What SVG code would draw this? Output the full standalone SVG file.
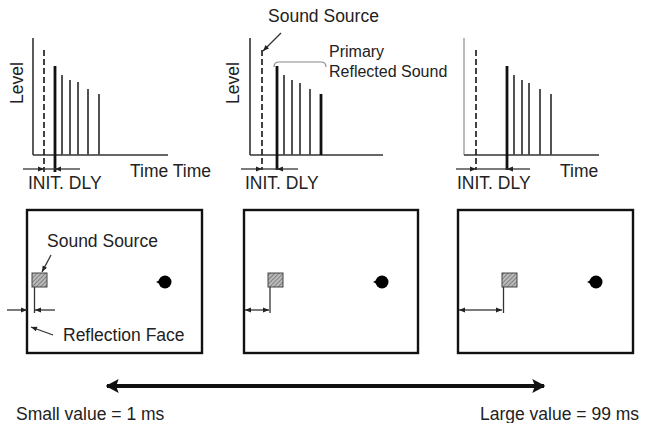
<svg xmlns="http://www.w3.org/2000/svg" width="645" height="423" viewBox="0 0 645 423">
<style>
text{font-family:"Liberation Sans",Arial,sans-serif;fill:#222;}
.t18{font-size:17.5px;}
.t16{font-size:16px;}
.ax{stroke:#333;stroke-width:1.6;fill:none;}
.axl{stroke:#aaa;stroke-width:1.6;fill:none;}
.ln{stroke:#4a4a4a;stroke-width:1.9;}
.lk{stroke:#111;stroke-width:2.8;}
.ds{stroke:#222;stroke-width:1.7;stroke-dasharray:6,3;}
.dm{stroke:#333;stroke-width:1.3;fill:none;}
.box{fill:#fff;stroke:#111;stroke-width:2.4;}
.sq{fill:url(#hatch);stroke:#444;stroke-width:1;}
.ld{stroke:#333;stroke-width:1.3;fill:none;}
</style>
<defs>
<pattern id="hatch" patternUnits="userSpaceOnUse" width="3" height="3" patternTransform="rotate(45)">
<rect width="3" height="3" fill="#bbb"/>
<line x1="0" y1="0" x2="0" y2="3" stroke="#666" stroke-width="1.4"/>
</pattern>
<marker id="ah" viewBox="0 0 10 10" refX="10" refY="5" markerWidth="7" markerHeight="6" markerUnits="userSpaceOnUse" orient="auto">
<path d="M0,1 L10,5 L0,9 z" fill="#222"/>
</marker>
<marker id="big" viewBox="0 0 10 10" refX="9" refY="5" markerWidth="13" markerHeight="14" markerUnits="userSpaceOnUse" orient="auto" preserveAspectRatio="none">
<path d="M0,0 L10,5 L0,10 L2,5 z" fill="#111"/>
</marker>
</defs>

<g id="graph1">
<line class="ax" x1="33" y1="38" x2="33" y2="155"/>
<line class="ax" x1="33" y1="155" x2="168" y2="155"/>
<line class="ds" x1="44" y1="50" x2="44" y2="172"/>
<line class="lk" x1="55" y1="66" x2="55" y2="172"/>
<line class="ln" x1="62" y1="75" x2="62" y2="155"/>
<line class="ln" x1="70" y1="80" x2="70" y2="155"/>
<line class="ln" x1="78" y1="82" x2="78" y2="155"/>
<line class="ln" x1="88" y1="89" x2="88" y2="155"/>
<line class="ln" x1="99" y1="94" x2="99" y2="155"/>
<text class="t18" transform="translate(23,83) rotate(-90)" text-anchor="middle">Level</text>
<text class="t18" x="130" y="177">Time Time</text>
<text class="t18" x="28" y="189">INIT. DLY</text>
</g>

<g id="graph2">
<line class="ax" x1="250" y1="38" x2="250" y2="155"/>
<line class="ax" x1="250" y1="155" x2="383" y2="155"/>
<line class="ds" x1="262" y1="50" x2="262" y2="170"/>
<line class="lk" x1="277" y1="66" x2="277" y2="170"/>
<line class="ln" x1="284" y1="75" x2="284" y2="155"/>
<line class="ln" x1="292" y1="80" x2="292" y2="155"/>
<line class="ln" x1="300" y1="83" x2="300" y2="155"/>
<line class="ln" x1="310" y1="89" x2="310" y2="155"/>
<line class="lk" x1="321" y1="94" x2="321" y2="155"/>
<text class="t18" transform="translate(239,83) rotate(-90)" text-anchor="middle">Level</text>
<text class="t18" x="268" y="22">Sound Source</text>
<text class="t16" x="329" y="57">Primary</text>
<text class="t16" x="329" y="77">Reflected Sound</text>
<text class="t18" x="245" y="189">INIT. DLY</text>
</g>

<g id="graph3">
<line class="axl" x1="464" y1="38" x2="464" y2="155"/>
<line class="ax" x1="464" y1="155" x2="599" y2="155"/>
<line class="ds" x1="476" y1="50" x2="476" y2="170"/>
<line class="lk" x1="507" y1="66" x2="507" y2="170"/>
<line class="ln" x1="514" y1="75" x2="514" y2="155"/>
<line class="ln" x1="522" y1="80" x2="522" y2="155"/>
<line class="ln" x1="529" y1="83" x2="529" y2="155"/>
<line class="ln" x1="540" y1="89" x2="540" y2="155"/>
<line class="ln" x1="551" y1="94" x2="551" y2="155"/>
<text class="t18" x="560" y="177">Time</text>
<text class="t18" x="457" y="189">INIT. DLY</text>
</g>

<g id="room1">
<rect class="box" x="27" y="210" width="175" height="143"/>
<rect class="sq" x="32" y="273" width="15" height="14"/>
<line class="dm" x1="34.5" y1="287" x2="34.5" y2="313"/>
<circle cx="165" cy="282" r="6.5" fill="#000"/>
<path d="M160,280 L156,282 L160,284 z" fill="#000"/>
<text class="t18" x="47" y="247">Sound Source</text>
<text class="t18" x="63" y="341">Reflection Face</text>
</g>

<g id="room2">
<rect class="box" x="244" y="210" width="174" height="143"/>
<rect class="sq" x="268" y="273" width="15" height="14"/>
<line class="dm" x1="270" y1="287" x2="270" y2="313"/>
<circle cx="382" cy="282" r="6.5" fill="#000"/>
<path d="M377,280 L373,282 L377,284 z" fill="#000"/>
</g>

<g id="room3">
<rect class="box" x="458" y="210" width="175" height="143"/>
<rect class="sq" x="502" y="273" width="15" height="14"/>
<line class="dm" x1="503.5" y1="287" x2="503.5" y2="313"/>
<circle cx="596" cy="282" r="6.5" fill="#000"/>
<path d="M591,280 L587,282 L591,284 z" fill="#000"/>
</g>

<g id="labels">
<text class="t18" x="16" y="420">Small value = 1 ms</text>
<text class="t18" x="480" y="420">Large value = 99 ms</text>
</g>

<g id="connectors">
<line class="dm" x1="23" y1="169" x2="44" y2="169" marker-end="url(#ah)"/>
<line class="dm" x1="44" y1="169" x2="55" y2="169"/>
<line class="dm" x1="80" y1="169" x2="55" y2="169" marker-end="url(#ah)"/>
<line class="dm" x1="241" y1="169" x2="262" y2="169" marker-end="url(#ah)"/>
<line class="dm" x1="262" y1="169" x2="277" y2="169"/>
<line class="dm" x1="298" y1="169" x2="277" y2="169" marker-end="url(#ah)"/>
<line class="dm" x1="456" y1="169" x2="476" y2="169" marker-end="url(#ah)"/>
<line class="dm" x1="476" y1="169" x2="507" y2="169"/>
<line class="dm" x1="530" y1="169" x2="507" y2="169" marker-end="url(#ah)"/>
<line class="ld" x1="281" y1="33" x2="263" y2="51" marker-end="url(#ah)"/>
<path d="M274,67 Q274,62 279,62 L321,62 Q326,62 326,67" fill="none" stroke="#888" stroke-width="1.2"/>
<line class="ld" x1="51" y1="255" x2="42" y2="272" marker-end="url(#ah)"/>
<line class="ld" x1="53" y1="335" x2="31" y2="327" marker-end="url(#ah)"/>
<line class="dm" x1="7" y1="310" x2="27" y2="310" marker-end="url(#ah)"/>
<line class="dm" x1="55" y1="310" x2="35" y2="310" marker-end="url(#ah)"/>
<line class="dm" x1="257" y1="310" x2="245" y2="310" marker-end="url(#ah)"/>
<line class="dm" x1="257" y1="310" x2="269" y2="310" marker-end="url(#ah)"/>
<line class="dm" x1="480" y1="310" x2="459" y2="310" marker-end="url(#ah)"/>
<line class="dm" x1="480" y1="310" x2="502" y2="310" marker-end="url(#ah)"/>
<line x1="326" y1="386" x2="107" y2="386" stroke="#111" stroke-width="4" marker-end="url(#big)"/>
<line x1="326" y1="386" x2="544" y2="386" stroke="#111" stroke-width="4" marker-end="url(#big)"/>
</g>
</svg>
